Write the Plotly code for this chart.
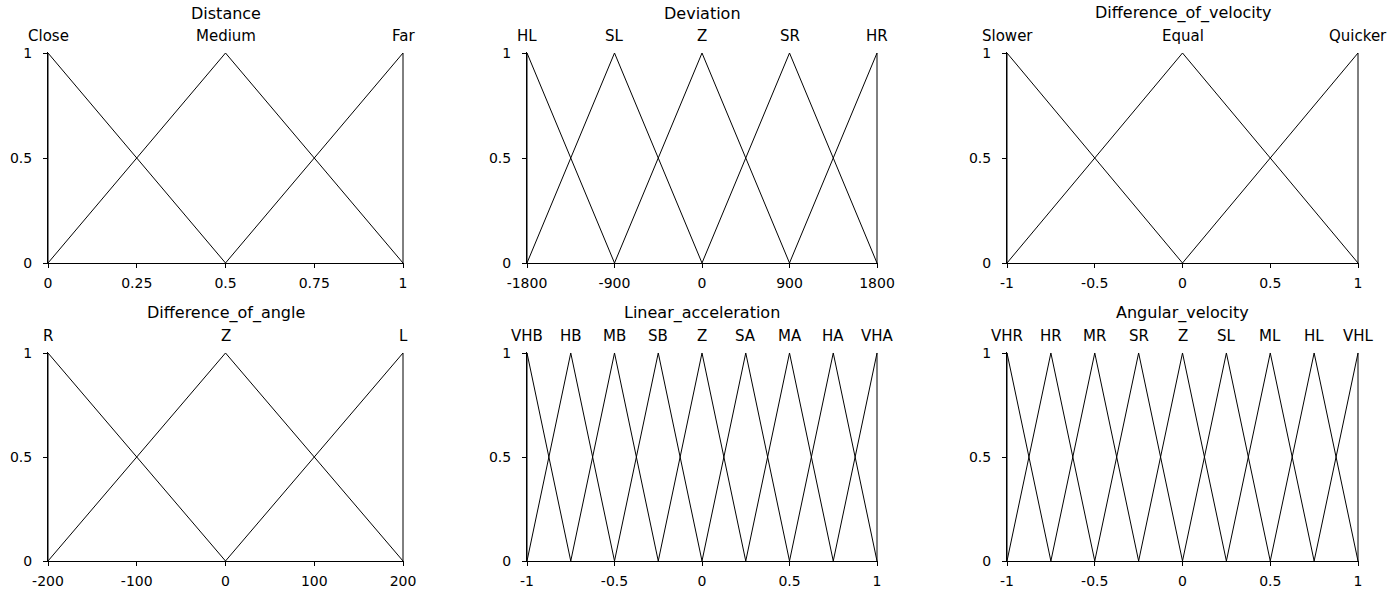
import plotly.graph_objects as go

# ---- data ----
titles = ["Distance", "Deviation", "Difference_of_velocity",
          "Difference_of_angle", "Linear_acceleration", "Angular_velocity"]

distance_centers = [0, 0.5, 1]
distance_labels = ["Close", "Medium", "Far"]

deviation_centers = [-1800, -900, 0, 900, 1800]
deviation_labels = ["HL", "SL", "Z", "SR", "HR"]

velocity_centers = [-1, 0, 1]
velocity_labels = ["Slower", "Equal", "Quicker"]

angle_centers = [-200, 0, 200]
angle_labels = ["R", "Z", "L"]

linacc_centers = [-1, -0.75, -0.5, -0.25, 0, 0.25, 0.5, 0.75, 1]
linacc_labels = ["VHB", "HB", "MB", "SB", "Z", "SA", "MA", "HA", "VHA"]

angvel_centers = [-1, -0.75, -0.5, -0.25, 0, 0.25, 0.5, 0.75, 1]
angvel_labels = ["VHR", "HR", "MR", "SR", "Z", "SL", "ML", "HL", "VHL"]

distance_ticks = [0, 0.25, 0.5, 0.75, 1]
distance_ticktext = ["0", "0.25", "0.5", "0.75", "1"]
deviation_ticks = [-1800, -900, 0, 900, 1800]
deviation_ticktext = ["-1800", "-900", "0", "900", "1800"]
velocity_ticks = [-1, -0.5, 0, 0.5, 1]
velocity_ticktext = ["-1", "-0.5", "0", "0.5", "1"]
angle_ticks = [-200, -100, 0, 100, 200]
angle_ticktext = ["-200", "-100", "0", "100", "200"]
linacc_ticks = [-1, -0.5, 0, 0.5, 1]
linacc_ticktext = ["-1", "-0.5", "0", "0.5", "1"]
angvel_ticks = [-1, -0.5, 0, 0.5, 1]
angvel_ticktext = ["-1", "-0.5", "0", "0.5", "1"]

y_ticks = [0, 0.5, 1]
y_ticktext = ["0", "0.5", "1"]

panels = [
    (distance_centers, distance_labels, distance_ticks, distance_ticktext),
    (deviation_centers, deviation_labels, deviation_ticks, deviation_ticktext),
    (velocity_centers, velocity_labels, velocity_ticks, velocity_ticktext),
    (angle_centers, angle_labels, angle_ticks, angle_ticktext),
    (linacc_centers, linacc_labels, linacc_ticks, linacc_ticktext),
    (angvel_centers, angvel_labels, angvel_ticks, angvel_ticktext),
]

# ---- layout geometry (page pixels; body margin removed via post_script) ----
W, H = 1392, 593
col_px = [(48, 403), (527, 877), (1007, 1358)]
row_px = [(53, 263), (353, 561)]  # (y=1 pixel, y=0 pixel)
PADF = 0.004

FONT = "DejaVu Sans"
fig = go.Figure()
annotations = []

for i, (centers, labels, ticks, ticktext) in enumerate(panels):
    r, c = divmod(i, 3)
    ax = "" if i == 0 else str(i + 1)
    xname, yname = "x" + ax, "y" + ax
    lo, hi = centers[0], centers[-1]
    span = hi - lo
    px0, px1 = col_px[c]
    ppu = (px1 - px0) / span
    padx = PADF * span
    xr = [lo, hi + padx]
    dx0 = px0 / W
    dx1 = (px1 + padx * ppu) / W
    ytop, ybot = row_px[r]
    yppu = ybot - ytop
    pady = 0.005
    yr = [0, 1 + pady]
    dy0 = 1 - ybot / H
    dy1 = 1 - (ytop - pady * yppu) / H

    for k, cx in enumerate(centers):
        left = centers[k - 1] if k > 0 else cx
        right = centers[k + 1] if k < len(centers) - 1 else cx
        xs = [left, cx, right]
        ys = [0, 1, 0]
        if k == 0:
            xs = [cx, cx, right]
        if k == len(centers) - 1:
            xs = [left, cx, cx]
        fig.add_trace(go.Scatter(x=xs, y=ys, mode="lines",
                                 line=dict(color="black", width=1),
                                 xaxis=xname, yaxis=yname,
                                 showlegend=False, hoverinfo="skip",
                                 cliponaxis=False))
        annotations.append(dict(x=cx, y=1, xref=xname, yref=yname,
                                text=labels[k], showarrow=False,
                                yanchor="middle", xanchor="center",
                                yshift=17,
                                font=dict(family=FONT, size=15, color="black")))
    annotations.append(dict(x=(lo + hi) / 2, y=1, xref=xname, yref=yname,
                            text=titles[i], showarrow=False,
                            yanchor="middle", xanchor="center", yshift=40,
                            font=dict(family=FONT, size=16, color="black")))

    common = dict(showgrid=False, zeroline=False, showline=True,
                  linecolor="black", linewidth=1, ticks="outside",
                  ticklen=4, tickwidth=1, tickcolor="black",
                  tickfont=dict(family=FONT, size=14, color="black"),
                  fixedrange=True, automargin=False)
    fig.update_layout(**{
        "xaxis" + ax: dict(domain=[dx0, dx1], range=xr, anchor=yname,
                           tickmode="array", tickvals=ticks, ticktext=ticktext,
                           ticklabelstandoff=3, **common),
        "yaxis" + ax: dict(domain=[dy0, dy1], range=yr, anchor=xname,
                           tickmode="array", tickvals=y_ticks,
                           ticktext=y_ticktext, ticklabelstandoff=8,
                           **common),
    })

fig.update_layout(width=W, height=H,
                  margin=dict(l=0, r=0, t=0, b=0, autoexpand=False),
                  paper_bgcolor="white", plot_bgcolor="white",
                  annotations=annotations, showlegend=False)

fig.write_html("out.html", config={"displayModeBar": False},
               post_script="document.body.style.margin='0';"
                           "document.body.style.overflow='hidden';")
